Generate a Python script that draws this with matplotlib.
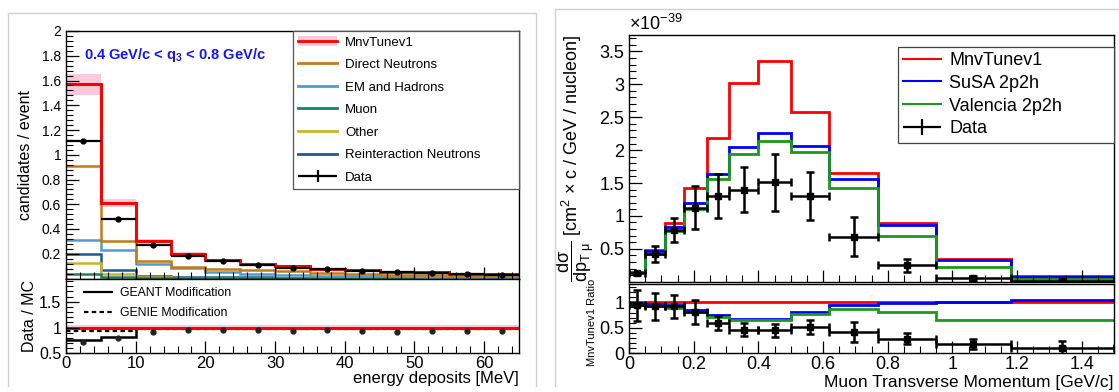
import numpy as np
import matplotlib.pyplot as plt
from matplotlib.patches import Patch
from matplotlib.lines import Line2D
from matplotlib.legend_handler import HandlerErrorbar
from matplotlib.ticker import MultipleLocator

plt.rcParams['font.family'] = ['Liberation Sans', 'DejaVu Sans']
plt.rcParams['mathtext.fontset'] = 'custom'
plt.rcParams['mathtext.rm'] = 'Liberation Sans'
plt.rcParams['mathtext.it'] = 'Liberation Sans:italic'
plt.rcParams['mathtext.bf'] = 'Liberation Sans:bold'

# ---- left panel: energy deposits ----
e_edges = np.arange(0, 70, 5)
mnv_e = [1.57, 0.61, 0.30, 0.20, 0.15, 0.117, 0.10, 0.078, 0.069, 0.056, 0.05, 0.04, 0.035]
data_e = [1.11, 0.48, 0.27, 0.18, 0.138, 0.11, 0.088, 0.074, 0.062, 0.051, 0.045, 0.038, 0.032]
direct_n = [0.91, 0.30, 0.144, 0.09, 0.074, 0.066, 0.06, 0.045, 0.04, 0.031, 0.027, 0.021, 0.018]
em_had = [0.31, 0.23, 0.12, 0.082, 0.052, 0.035, 0.028, 0.022, 0.02, 0.018, 0.016, 0.013, 0.012]
muon = [0.036, 0.015, 0.006, 0.004, 0.003, 0.003, 0.002, 0.002, 0.002, 0.001, 0.001, 0.001, 0.001]
other = [0.128, 0.034, 0.012, 0.008, 0.006, 0.005, 0.004, 0.003, 0.003, 0.002, 0.002, 0.002, 0.002]
reint_n = [0.20, 0.07, 0.023, 0.015, 0.012, 0.01, 0.008, 0.007, 0.006, 0.005, 0.005, 0.004, 0.004]
ratio_data_e = [0.71, 0.79, 0.92, 0.95, 0.95, 0.95, 0.93, 0.96, 0.93, 0.92, 0.94, 0.93, 0.93]
geant_mod = [0.75, 0.81, 0.99, 0.99, 0.99, 0.99, 0.99, 0.99, 0.99, 0.99, 0.99, 0.99, 0.99]
genie_mod = [0.93, 0.93, 0.97, 0.98, 0.98, 0.98, 0.98, 0.98, 0.98, 0.98, 0.98, 0.98, 0.98]

# ---- right panel: muon transverse momentum (x1e-39) ----
pt_edges = [0, 0.05, 0.11, 0.17, 0.24, 0.31, 0.40, 0.50, 0.62, 0.77, 0.95, 1.18, 1.5]
mnv_pt = [0.15, 0.475, 0.885, 1.425, 2.185, 3.025, 3.36, 2.575, 1.65, 0.885, 0.345, 0.08]
susa_pt = [0.15, 0.46, 0.835, 1.2, 1.64, 2.04, 2.265, 2.065, 1.56, 0.86, 0.335, 0.075]
val_pt = [0.14, 0.415, 0.775, 1.1, 1.565, 1.935, 2.135, 1.965, 1.425, 0.70, 0.225, 0.04]
data_pt = [0.125, 0.425, 0.79, 1.125, 1.30, 1.40, 1.51, 1.305, 0.685, 0.25, 0.05, 0.012]
data_pt_err = [0.03, 0.12, 0.18, 0.33, 0.33, 0.34, 0.43, 0.36, 0.30, 0.10, 0.03, 0.01]
ratio_mnv = [1, 1, 1, 1, 1, 1, 1, 1, 1, 1, 1, 1.01]
ratio_susa = [0.99, 0.97, 0.95, 0.85, 0.755, 0.68, 0.68, 0.82, 0.95, 0.99, 1.0, 1.04]
ratio_val = [0.95, 0.92, 0.89, 0.81, 0.71, 0.645, 0.645, 0.775, 0.87, 0.81, 0.66, 0.66]
ratio_data = [0.94, 0.92, 0.92, 0.81, 0.595, 0.465, 0.45, 0.515, 0.42, 0.29, 0.18, 0.10]
ratio_err = [0.30, 0.27, 0.22, 0.24, 0.13, 0.12, 0.13, 0.14, 0.19, 0.10, 0.10, 0.15]

W, H = 1119, 392
fig = plt.figure(figsize=(W / 100, H / 100), dpi=100)


def px_axes(x0, y0, x1, y1):
    return fig.add_axes([x0 / W, 1 - y1 / H, (x1 - x0) / W, (y1 - y0) / H])


def root_ticks(ax, size):
    ax.tick_params(which='both', direction='in', labelsize=size)
    ax.tick_params(which='major', length=9, width=0.9)
    ax.tick_params(which='minor', length=5, width=0.8)
    for s in ax.spines.values():
        s.set_linewidth(1.0)


# panel frames
fig.add_artist(Line2D([8 / W, 8 / W, 536 / W, 536 / W], [1 - 386 / H, 1 - 13 / H, 1 - 13 / H, 1 - 386 / H],
                      color='#d0d0d0', lw=1))
fig.add_artist(Line2D([555 / W, 555 / W, 1], [1 - 386 / H, 1 - 9 / H, 1 - 9 / H], color='#d0d0d0', lw=1))

c_red = '#ff0000'
c_pink = '#f9cadb'
colors_e = {'Direct Neutrons': '#c27c16', 'EM and Hadrons': '#4f9cd0', 'Muon': '#14855e',
            'Other': '#c8b52d', 'Reinteraction Neutrons': '#1b5c8c'}

# left main
ax1 = px_axes(66, 31, 519, 278.5)
centers_e = (e_edges[:-1] + e_edges[1:]) / 2
mnv_arr = np.array(mnv_e)
ax1.stairs(mnv_arr * 1.055, e_edges, baseline=mnv_arr * 0.945, fill=True, color=c_pink, lw=0)
comps = [('Direct Neutrons', direct_n), ('EM and Hadrons', em_had), ('Muon', muon),
         ('Other', other), ('Reinteraction Neutrons', reint_n)]
for name, vals in comps[::-1]:
    ax1.stairs(vals, e_edges, baseline=None, color=colors_e[name], lw=1.8)
ax1.stairs(mnv_e, e_edges, baseline=None, color=c_red, lw=2.2)
ax1.errorbar(centers_e, data_e, xerr=2.5, yerr=0.005, fmt='o', ms=3.5, color='black',
             lw=1.6, capsize=0)
ax1.set_xlim(0, 65)
ax1.set_ylim(0, 2)
ax1.xaxis.set_major_locator(MultipleLocator(10))
ax1.xaxis.set_minor_locator(MultipleLocator(2))
ax1.set_yticks([0.2, 0.4, 0.6, 0.8, 1, 1.2, 1.4, 1.6, 1.8, 2])
ax1.set_yticklabels(['0.2', '0.4', '0.6', '0.8', '1', '1.2', '1.4', '1.6', '1.8', '2'])
ax1.yaxis.set_minor_locator(MultipleLocator(0.04))
ax1.tick_params(labelbottom=False)
root_ticks(ax1, 10)
ax1.set_ylabel('candidates / event', fontsize=11.5)
ax1.yaxis.set_label_coords(-0.073, 0.5)
ax1.text(0.04, 0.905, r'0.4 GeV/c < q$_{\mathbf{3}}$ < 0.8 GeV/c', transform=ax1.transAxes,
         color='#1414ff', fontsize=10.5, fontweight='bold', va='center')
# legend-only data handle (no marker, like the reference)
dleg = ax1.errorbar([], [], xerr=[], yerr=[], fmt='none', color='black', lw=1.6, capsize=0)
h_mnv = (Patch(facecolor=c_pink, edgecolor='none'), Line2D([], [], color=c_red, lw=2))
handles = [h_mnv] + [Line2D([], [], color=colors_e[n], lw=2) for n, _ in comps] + [dleg]
labels = ['MnvTunev1'] + [n for n, _ in comps] + ['Data']
leg = ax1.legend(handles, labels, loc='upper left', bbox_to_anchor=(0.5, 0.38, 0.5, 0.62), mode='expand',
                 fontsize=9.5, frameon=True, fancybox=False, edgecolor='#555555', framealpha=1,
                 handlelength=3.0, handletextpad=0.6, labelspacing=0.78, borderpad=0.4, borderaxespad=0,
                 handler_map={dleg: HandlerErrorbar(xerr_size=1.5, yerr_size=0.45)})
leg.get_frame().set_linewidth(0.9)

# left ratio
ax2 = px_axes(66, 278.5, 519, 353.3)
ones = np.ones(len(mnv_e))
ax2.stairs(ones * 1.04, e_edges, baseline=ones * 0.96, fill=True, color=c_pink, lw=0)
ax2.stairs(geant_mod, e_edges, baseline=None, color='black', lw=1.8)
ax2.stairs(genie_mod, e_edges, baseline=None, color='black', lw=1.6, ls=(0, (2, 1.5)))
ax2.stairs(ones, e_edges, baseline=None, color=c_red, lw=2.2)
ax2.plot(centers_e, ratio_data_e, 'o', ms=3.5, color='#222222')
ax2.set_xlim(0, 65)
ax2.set_ylim(0.5, 1.95)
ax2.xaxis.set_major_locator(MultipleLocator(10))
ax2.xaxis.set_minor_locator(MultipleLocator(2))
ax2.set_yticks([0.5, 1, 1.5])
ax2.set_yticklabels(['0.5', '1', '1.5'])
ax2.yaxis.set_minor_locator(MultipleLocator(0.1))
root_ticks(ax2, 10.5)
ax2.tick_params(axis='y', labelsize=11.5)
ax2.tick_params(axis='x', labelsize=12, pad=2)
ax2.set_ylabel('Data / MC', fontsize=11.5)
ax2.yaxis.set_label_coords(-0.064, 0.5)
ax2.legend([Line2D([], [], color='black', lw=1.6), Line2D([], [], color='black', lw=1.6, ls=(0, (2, 1.5)))],
           ['GEANT Modification', 'GENIE Modification'], loc='upper left', bbox_to_anchor=(0.02, 1.0),
           frameon=False, fontsize=8.8, handlelength=2.3, handletextpad=0.7, labelspacing=0.65, borderaxespad=0.3)
fig.text(519 / W, 1 - 378 / H, 'energy deposits [MeV]', ha='right', va='center', fontsize=12)

# right main
c_blue = '#0000ff'
c_green = '#1a9a1a'
centers_pt = (np.array(pt_edges[:-1]) + np.array(pt_edges[1:])) / 2
half_w = (np.array(pt_edges[1:]) - np.array(pt_edges[:-1])) / 2
ax3 = px_axes(629, 35, 1114, 281.7)
ax3.stairs(mnv_pt, pt_edges, baseline=None, color=c_red, lw=2)
ax3.stairs(susa_pt, pt_edges, baseline=None, color=c_blue, lw=2)
ax3.stairs(val_pt, pt_edges, baseline=None, color=c_green, lw=2)
ax3.errorbar(centers_pt, data_pt, xerr=half_w, yerr=data_pt_err, fmt='s', ms=4.5, color='black',
             lw=1.8, capsize=3, capthick=1.8)
ax3.set_xlim(0, 1.5)
ax3.set_ylim(0, 3.75)
ax3.xaxis.set_major_locator(MultipleLocator(0.2))
ax3.xaxis.set_minor_locator(MultipleLocator(0.05))
ax3.set_yticks([0.5, 1, 1.5, 2, 2.5, 3, 3.5])
ax3.set_yticklabels(['0.5', '1', '1.5', '2', '2.5', '3', '3.5'])
ax3.yaxis.set_minor_locator(MultipleLocator(0.1))
ax3.tick_params(labelbottom=False)
root_ticks(ax3, 13)
ax3.set_ylabel(r'$\dfrac{\mathrm{d\sigma}}{\mathrm{dp}_{\mathrm{T}\ \mathrm{\mu}}}$ [cm$^{2}$ $\times$ c / GeV / nucleon]',
               fontsize=13)
ax3.yaxis.set_label_coords(-0.068, 0.5)
ax3.text(0, 1.005, r'$\times$10$^{-39}$', transform=ax3.transAxes, fontsize=13, ha='left', va='bottom')
dleg2 = ax3.errorbar([], [], xerr=[], yerr=[], fmt='none', color='black', lw=1.6, capsize=3, capthick=1.6)
h3 = [Line2D([], [], color=c_red, lw=1.5), Line2D([], [], color=c_blue, lw=1.5),
      Line2D([], [], color=c_green, lw=1.5), dleg2]
leg3 = ax3.legend(h3, ['MnvTunev1', 'SuSA 2p2h', 'Valencia 2p2h', 'Data'], loc='upper left',
                  bbox_to_anchor=(0.554, 0.54, 0.446, 0.413), mode='expand', fontsize=13, frameon=True,
                  fancybox=False, edgecolor='#444444', framealpha=1, handlelength=2.1, handletextpad=0.45,
                  labelspacing=0.32, borderpad=0.3, borderaxespad=0,
                  handler_map={dleg2: HandlerErrorbar(xerr_size=1.05, yerr_size=0.45)})
leg3.get_frame().set_linewidth(0.9)

# right ratio
ax4 = px_axes(629, 284, 1114, 353.3)
ax4.stairs(ratio_mnv, pt_edges, baseline=None, color=c_red, lw=2)
ax4.stairs(ratio_susa, pt_edges, baseline=None, color=c_blue, lw=2)
ax4.stairs(ratio_val, pt_edges, baseline=None, color=c_green, lw=2)
ax4.errorbar(centers_pt, ratio_data, xerr=half_w, yerr=ratio_err, fmt='s', ms=4.5, color='black',
             lw=1.8, capsize=3, capthick=1.8)
ax4.set_xlim(0, 1.5)
ax4.set_ylim(0, 1.36)
ax4.xaxis.set_minor_locator(MultipleLocator(0.05))
ax4.set_xticks([0, 0.2, 0.4, 0.6, 0.8, 1, 1.2, 1.4])
ax4.set_xticklabels(['0', '0.2', '0.4', '0.6', '0.8', '1', '1.2', '1.4'])
ax4.set_yticks([0, 0.5, 1])
ax4.set_yticklabels(['0', '0.5', '1'])
ax4.yaxis.set_minor_locator(MultipleLocator(0.1))
root_ticks(ax4, 13)
ax4.tick_params(axis='x', pad=2)
ax4.set_ylabel('MnvTunev1 Ratio', fontsize=8)
ax4.yaxis.set_label_coords(-0.066, 0.45)
fig.text(1114 / W, 1 - 382 / H, 'Muon Transverse Momentum [GeV/c]', ha='right', va='center', fontsize=12.5)

fig.savefig('out.png', dpi=100)
